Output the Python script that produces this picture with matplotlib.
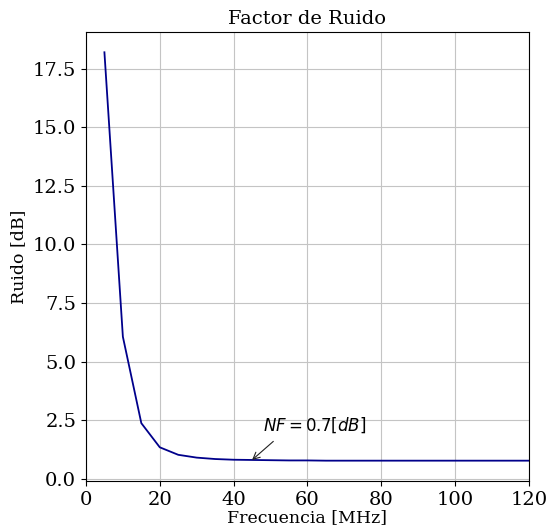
import numpy as np
import matplotlib.pyplot as plt

plt.rcParams['font.family'] = 'DejaVu Serif'

# frecuencia [MHz] y factor de ruido [dB]
freq = [5, 10, 15, 20, 25, 30, 35, 40, 45, 50, 55, 60, 65, 70, 75, 80,
        85, 90, 95, 100, 105, 110, 115, 120]
nf = [18.2, 6.06, 2.37, 1.34, 1.02, 0.90, 0.84, 0.81, 0.80, 0.79, 0.78, 0.78,
      0.77, 0.77, 0.77, 0.77, 0.77, 0.77, 0.77, 0.77, 0.77, 0.77, 0.77, 0.77]

fig = plt.figure(figsize=(5.51, 5.31), dpi=100)
ax = fig.add_axes([0.156, 0.094, 0.804, 0.846])

ax.plot(freq, nf, color='darkblue', linewidth=1.3)
ax.set_xlim(0, 120)
ax.set_title('Factor de Ruido', fontsize=14)
ax.set_xlabel('Frecuencia [MHz]', fontsize=12.5, labelpad=0)
ax.set_ylabel('Ruido [dB]', fontsize=12.5)
ax.tick_params(labelsize=14)
ax.grid(True, color='#c4c4c4')

ax.annotate(r'$NF = 0.7[dB]$', xy=(45, 0.8), xytext=(48, 2.05),
            fontsize=12,
            arrowprops=dict(arrowstyle='->', color='#222222', lw=0.8,
                            relpos=(0.17, 0), shrinkA=4, shrinkB=0))

plt.savefig('out.png')
